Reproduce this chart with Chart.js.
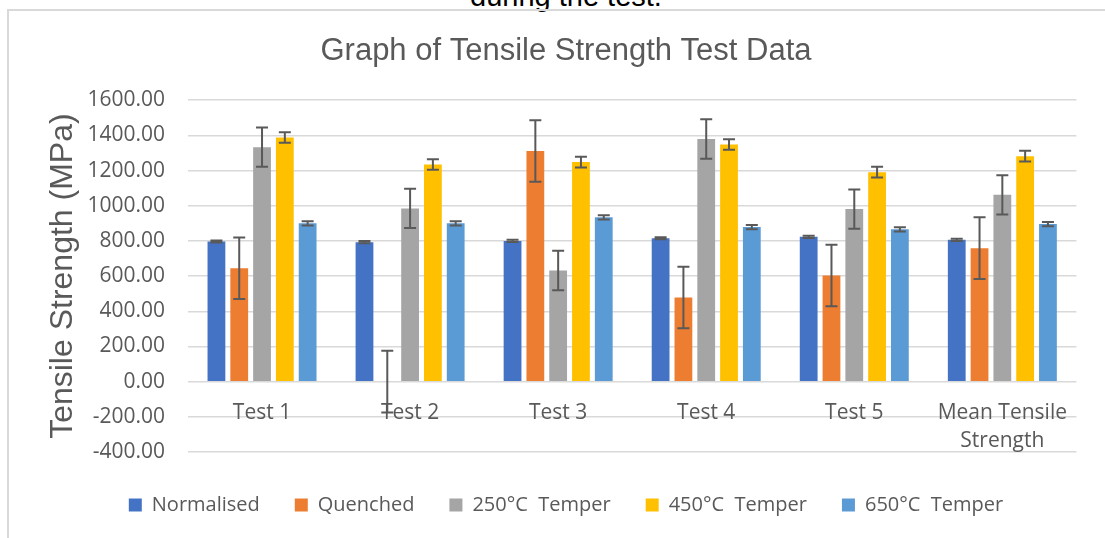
<!DOCTYPE html>
<html>
<head>
<meta charset="utf-8">
<script src="https://cdn.jsdelivr.net/npm/chart.js@4.4.0/dist/chart.umd.min.js"></script>
<style>
  html, body { margin: 0; padding: 0; background: #fff; overflow: hidden; }
  body { width: 1105px; height: 538px; position: relative; }
  #caption { position: absolute; top: -18px; left: 0; width: 1132px; text-align: center;
    font: 29px/29px "Liberation Sans", Arial, sans-serif; color: #000; }
  #frame { position: absolute; left: 7px; top: 9px; width: 1200px; height: 600px;
    border-top: 2px solid #d9d9d9; border-left: 2px solid #d9d9d9; }
  #wrap { position: absolute; left: 9px; top: 11px; width: 1076px; height: 514px; }
</style>
</head>
<body>
<div id="caption">during the test.</div>
<div id="frame"></div>
<div id="wrap"><canvas id="stats"></canvas></div>
<script>
'use strict';

var categories = ['Test 1', 'Test 2', 'Test 3', 'Test 4', 'Test 5', ['Mean Tensile', 'Strength']];
var seriesNames = ['Normalised', 'Quenched', '250\u00B0C  Temper', '450\u00B0C  Temper', '650\u00B0C  Temper'];
var normalised = [797, 793, 800, 815, 823, 806];
var quenched = [645, 0, 1311, 478, 603, 759];
var temper250 = [1333, 985, 632, 1379, 981, 1062];
var temper450 = [1388, 1235, 1248, 1348, 1191, 1282];
var temper650 = [900, 900, 934, 879, 866, 896];
// +/- error bar size for each series
var errorMargins = [6, 175, 112, 30, 12];
var colours = ['#4472C4', '#ED7D31', '#A5A5A5', '#FFC000', '#5B9BD5'];

var values = [normalised, quenched, temper250, temper450, temper650];
var grey = '#595959';

// draws the error bars on top of the bars, through the y scale
var errorBars = {
  id: 'errorBars',
  afterDatasetsDraw: function(chart) {
    var c = chart.ctx;
    var yScale = chart.scales.y;
    c.save();
    c.strokeStyle = grey;
    c.lineWidth = 2;
    chart.data.datasets.forEach(function(ds, i) {
      var meta = chart.getDatasetMeta(i);
      meta.data.forEach(function(bar, j) {
        var v = ds.data[j];
        var yTop = yScale.getPixelForValue(v + ds.errorMargin);
        var yBot = yScale.getPixelForValue(v - ds.errorMargin);
        var x = bar.x;
        c.beginPath();
        c.moveTo(x, yTop);
        c.lineTo(x, yBot);
        c.moveTo(x - 6, yTop);
        c.lineTo(x + 6, yTop);
        c.moveTo(x - 6, yBot);
        c.lineTo(x + 6, yBot);
        c.stroke();
      });
    });
    c.restore();
  }
};

var datasets = values.map(function(d, i) {
  return {
    label: seriesNames[i],
    data: d,
    backgroundColor: colours[i],
    borderWidth: 0,
    errorMargin: errorMargins[i],
    categoryPercentage: 0.77,
    barPercentage: 0.78
  };
});

var ctx = document.getElementById('stats');
var barChart = new Chart(ctx, {
  type: 'bar',
  data: {
    labels: categories,
    datasets: datasets
  },
  plugins: [errorBars],
  options: {
    responsive: true,
    maintainAspectRatio: false,
    animation: false,
    layout: { padding: { left: 38, right: 0, top: 0, bottom: 0 } },
    plugins: {
      title: {
        display: true,
        text: 'Graph of Tensile Strength Test Data',
        color: grey,
        font: { family: '"Liberation Sans", Arial', size: 31, weight: 'normal', lineHeight: 1.2 },
        padding: { top: 22, bottom: 30 }
      },
      legend: {
        position: 'bottom',
        // blank title only pushes the legend row down a little
        title: { display: true, text: ' ', padding: 0, font: { size: 8, lineHeight: 1 } },
        labels: {
          boxWidth: 13,
          boxHeight: 13,
          padding: 35,
          color: grey,
          font: { family: '"Open Sans"', size: 20 }
        }
      },
      tooltip: { enabled: false }
    },
    scales: {
      x: {
        axis: 'x',
        position: { y: 0 },
        grid: { display: false, drawTicks: false },
        border: { display: false },
        ticks: {
          color: grey,
          padding: 18,
          maxRotation: 0,
          font: { family: '"Open Sans"', size: 21, lineHeight: 1.3 }
        }
      },
      y: {
        min: -400,
        max: 1600,
        afterFit: function(scale) { scale.width = 141; },
        grid: { color: '#d9d9d9', lineWidth: 1.5, drawTicks: false },
        border: { display: false },
        ticks: {
          stepSize: 200,
          color: grey,
          padding: 23,
          font: { family: '"Open Sans"', size: 21 },
          callback: function(v) { return v.toFixed(2); }
        },
        title: {
          display: true,
          text: 'Tensile Strength (MPa)',
          color: grey,
          font: { family: '"Liberation Sans", Arial', size: 32, lineHeight: 1 },
          padding: { top: 0, bottom: 0 }
        }
      }
    }
  }
});
</script>
</body>
</html>
